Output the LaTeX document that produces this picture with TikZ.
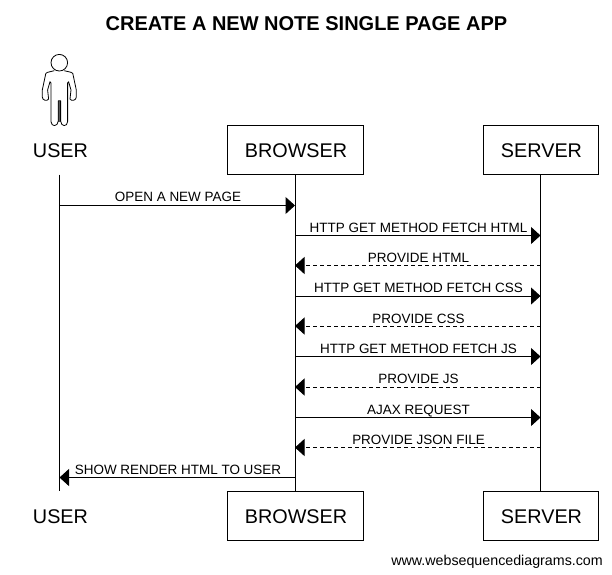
\documentclass[tikz,border=0pt]{standalone}
\usepackage{fontspec}
\setmainfont{Liberation Sans}
\usetikzlibrary{arrows.meta}
\tikzset{
  x=1pt,y=-1pt,
  box/.style={draw,line width=1pt,minimum width=#1,minimum height=49pt,inner sep=0pt,font=\fontsize{19.8}{22}\selectfont,text height=15.6pt,text depth=0pt,execute at begin node=\hspace*{2pt}},
  plainbox/.style={inner sep=0pt,minimum width=60pt,minimum height=49pt,font=\fontsize{19.8}{22}\selectfont,text height=15.6pt,text depth=0pt,execute at begin node=\hspace*{2pt}},
  life/.style={line width=1pt},
  msg/.style={line width=1pt,-{Triangle[length=9.5pt,width=17pt]}},
  reply/.style={msg,dash pattern=on 4pt off 3pt},
  lab/.style={font=\fontsize{13.47}{15}\selectfont,inner sep=0pt,anchor=base},
  figure/.style={line width=0.8pt,line join=round},
}
\begin{document}
\begin{tikzpicture}
\useasboundingbox (0,0) rectangle (612,574);
\node[font=\bfseries\fontsize{20}{24}\selectfont,inner sep=0pt,anchor=base] (title) at (306.5,30) {CREATE A NEW NOTE SINGLE PAGE APP};
\node[font=\fontsize{14.25}{16}\selectfont,inner sep=0pt,anchor=base east] (credit) at (603,565) {www.websequencediagrams.com};

\node[plainbox] (ut) at (59.5,150) {USER};
\node[box=136pt] (bt) at (295,150) {BROWSER};
\node[box=115pt] (st) at (540.5,150) {SERVER};
\node[plainbox] (ub) at (59.5,516) {USER};
\node[box=136pt] (bb) at (295,516) {BROWSER};
\node[box=115pt] (sb) at (540.5,516) {SERVER};

\draw[life] (ut.south) -- (ub.north);
\draw[life] (bt.south) -- (bb.north);
\draw[life] (st.south) -- (sb.north);

\foreach \n/\y in {1/205.5,2/235.5,3/265.5,4/296,5/326,6/356.5,7/387,8/417.5,9/447.5,10/477.5}{
  \coordinate (u\n) at (ut.south |- 0,\y);
  \coordinate (b\n) at (bt.south |- 0,\y);
  \coordinate (s\n) at (st.south |- 0,\y);
}
\draw[msg] (u1) -- (b1);
\draw[msg] (b2) -- (s2);
\draw[reply] (s3) -- (b3);
\draw[msg] (b4) -- (s4);
\draw[reply] (s5) -- (b5);
\draw[msg] (b6) -- (s6);
\draw[reply] (s7) -- (b7);
\draw[msg] (b8) -- (s8);
\draw[reply] (s9) -- (b9);
\draw[msg] (b10) -- (u10);

\node[lab] (l1) at (178,201) {OPEN A NEW PAGE};
\node[lab] (l2) at (418.5,232) {HTTP GET METHOD FETCH HTML};
\node[lab] (l3) at (418.5,262) {PROVIDE HTML};
\node[lab] (l4) at (418.5,292) {HTTP GET METHOD FETCH CSS};
\node[lab] (l5) at (418.5,323) {PROVIDE CSS};
\node[lab] (l6) at (418.5,353) {HTTP GET METHOD FETCH JS};
\node[lab] (l7) at (418.5,383) {PROVIDE JS};
\node[lab] (l8) at (418.5,414) {AJAX REQUEST};
\node[lab] (l9) at (418.5,444) {PROVIDE JSON FILE};
\node[lab] (l10) at (178,474) {SHOW RENDER HTML TO USER};

% actor figure
\begin{scope}[shift={(59.3,0)}]
\draw[figure] (0,62.7) circle (8.3);
\fill[gray!70!black] (-1,100.7) rectangle (1.3,122);
\draw[figure] (-5,70.7) .. controls (-8,72) and (-12,71.5) .. (-13.5,73.5)
  -- (-17,90) -- (-17,97) .. controls (-17,100.5) and (-12,101.5) .. (-10.7,99)
  -- (-11.7,90) -- (-9.3,81.7) -- (-8.3,83) -- (-8.3,121.7)
  .. controls (-8,127) and (-1.5,127) .. (-1,121) -- (-1,100.7) -- (1.3,100.7) -- (1.3,121)
  .. controls (1.8,127) and (8,127) .. (8.3,121.7) -- (8.3,83) -- (9.3,81.7) -- (11.7,90) -- (10.7,99)
  .. controls (12,101.5) and (17,100.5) .. (17,97) -- (17,90) -- (13.5,73.5)
  .. controls (12,71.5) and (8,72) .. (5,70.7);
\end{scope}
\end{tikzpicture}
\end{document}
